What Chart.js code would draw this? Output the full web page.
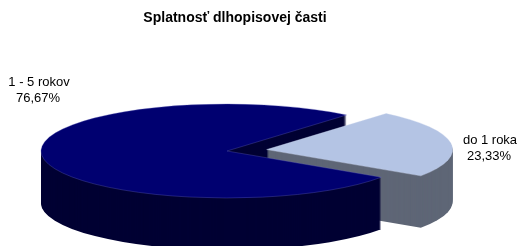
<!DOCTYPE html>
<html>
<head>
<meta charset="utf-8">
<script src="https://cdn.jsdelivr.net/npm/chart.js@4/dist/chart.umd.min.js"></script>
<style>
  html, body { margin: 0; padding: 0; background: #fff; }
  #wrap { width: 521px; height: 246px; }
</style>
</head>
<body>
<div id="wrap"><canvas id="chart" width="521" height="246"></canvas></div>
<script>
// chart data
const categories = ['do 1 roka', '1 - 5 rokov']
const shares = [23.33, 76.67]
const shareLabels = ['23,33%', '76,67%']
const topColors = ['#b4c4e4', '#000070']
const sideColors = ['#5e6676', '#000033']
const edgeColors = ['rgba(200,210,235,0.6)', 'rgba(100,100,190,0.55)']

// 3d look of the pie (screen pixels)
const CX = 227
const CY = 151
const RX = 186
const RY = 47
const DEPTH = 52
const EXPLODE = [40, 0]

// Draws the pie as an extruded ellipse, angles come from chart.js arcs
const pie3d = {
  id: 'pie3d',
  beforeDatasetsDraw(chart) {
    const ctx = chart.ctx
    const arcs = chart.getDatasetMeta(0).data

    const slices = arcs.map((arc, i) => {
      const mid = (arc.startAngle + arc.endAngle) / 2
      const e = EXPLODE[i] / RX
      return {
        x: CX + Math.cos(mid) * e * RX,
        y: CY + Math.sin(mid) * e * RY,
        start: arc.startAngle,
        end: arc.endAngle
      }
    })

    const wedge = (s, dy) => {
      ctx.beginPath()
      ctx.moveTo(s.x, s.y + dy)
      ctx.ellipse(s.x, s.y + dy, RX, RY, 0, s.start, s.end)
      ctx.closePath()
    }

    ctx.save()
    // side walls, stacked from the bottom up
    for (let d = DEPTH; d >= 1; d--) {
      slices.forEach((s, i) => {
        ctx.fillStyle = sideColors[i]
        wedge(s, d)
        ctx.fill()
      })
    }
    // top faces with a faint rim
    slices.forEach((s, i) => {
      ctx.fillStyle = topColors[i]
      wedge(s, 0)
      ctx.fill()
      ctx.strokeStyle = edgeColors[i]
      ctx.lineWidth = 0.6
      ctx.stroke()
    })
    ctx.restore()

    // labels
    const spots = [[490, 140], [39, 82]]
    ctx.save()
    ctx.fillStyle = '#000'
    ctx.font = '13px "Liberation Sans", Arial, sans-serif'
    ctx.textAlign = 'center'
    ctx.textBaseline = 'middle'
    categories.forEach((c, i) => {
      const [lx, ly] = spots[i]
      ctx.fillText(c, lx, ly)
      ctx.fillText(shareLabels[i], lx - 1, ly + 16)
    })
    ctx.restore()
    return false
  }
}

new Chart(document.getElementById('chart'), {
  type: 'pie',
  data: {
    labels: categories,
    datasets: [{
      data: shares,
      backgroundColor: topColors,
      borderWidth: 0
    }]
  },
  options: {
    responsive: false,
    animation: false,
    rotation: 40,
    layout: { padding: { right: 51 } },
    plugins: {
      legend: { display: false },
      tooltip: { enabled: false },
      title: {
        display: true,
        text: 'Splatnosť dlhopisovej časti',
        color: '#000',
        font: { family: '"Liberation Sans", Arial, sans-serif', size: 14, weight: 'bold' },
        padding: { top: 10, bottom: 10 }
      }
    }
  },
  plugins: [pie3d]
})
</script>
</body>
</html>
